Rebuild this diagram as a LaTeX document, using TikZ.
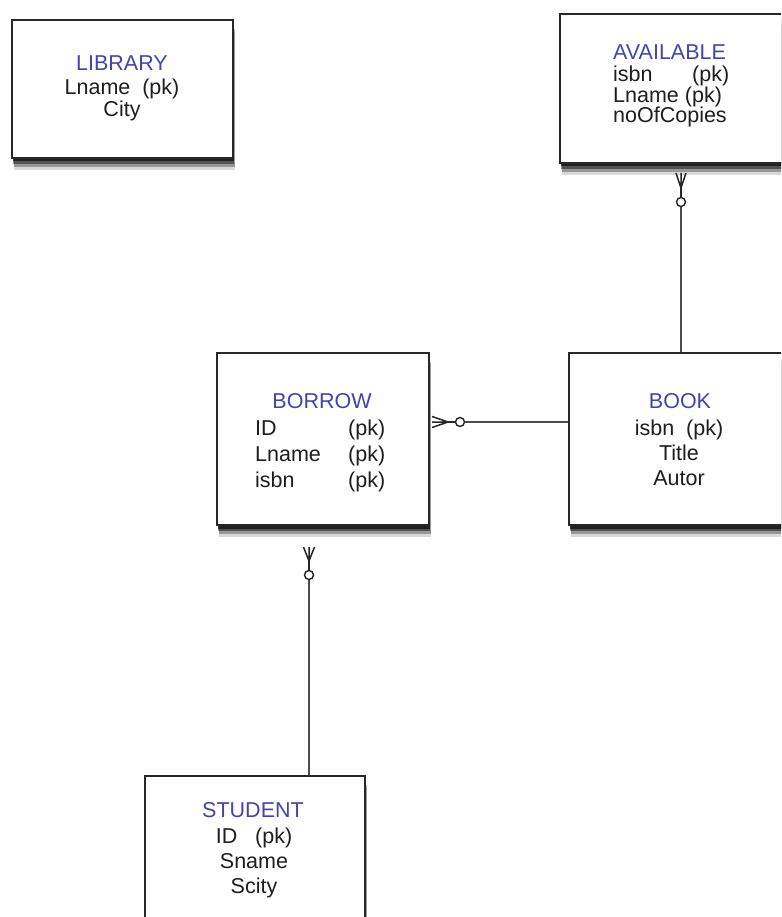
\documentclass[tikz,border=0pt]{standalone}
\usepackage{fontspec}
\setmainfont{Liberation Sans}
\usetikzlibrary{shadows}
\definecolor{ttl}{RGB}{68,68,175}
\definecolor{txt}{RGB}{30,30,30}
\definecolor{brd}{RGB}{40,40,40}
\definecolor{lnc}{RGB}{75,75,75}
\tikzset{
  entity/.style={draw=brd, line width=2.4pt, fill=white, inner sep=0pt, rectangle,
    general shadow={fill=black, opacity=0.15, shadow xshift=2pt, shadow yshift=-12pt},
    general shadow={fill=black, opacity=0.30, shadow xshift=1.5pt, shadow yshift=-9pt},
    general shadow={fill=black, opacity=0.45, shadow xshift=1pt, shadow yshift=-6pt},
    general shadow={fill=black, opacity=0.60, shadow xshift=0.5pt, shadow yshift=-3.5pt}},
  ttltext/.style={text=ttl, font=\fontsize{21.5}{24}\selectfont, inner sep=0pt, anchor=base},
  rowtext/.style={text=txt, font=\fontsize{21.5}{24}\selectfont, inner sep=0pt, anchor=base},
  rowleft/.style={rowtext, anchor=base west},
  conn/.style={draw=lnc, line width=1.6pt},
  crow/.style={draw=black!85, line width=1.5pt},
  ring/.style={draw=black!85, line width=1.4pt, fill=white, circle, inner sep=0pt, minimum size=9pt}
}
\begin{document}
\begin{tikzpicture}[x=1pt,y=-1pt]
\useasboundingbox (0,0) rectangle (781,917);
\clip (0,0) rectangle (781,917);
\fill[white] (0,0) rectangle (781,917);

% entity boxes
\node[entity, minimum width=221pt, minimum height=138pt] (lib) at (122.5,89) {};
\node[entity, minimum width=223pt, minimum height=149pt] (avail) at (671.5,88.5) {};
\node[entity, minimum width=212pt, minimum height=172pt] (borrow) at (323,439) {};
\node[entity, minimum width=214pt, minimum height=172pt] (book) at (676,439) {};
\node[entity, minimum width=220pt, minimum height=159pt] (student) at (255,855.5) {};

% LIBRARY
\node[ttltext] (libT) at (122,71) {LIBRARY};
\node[rowtext] (libA) at (122,95) {Lname\ \ (pk)};
\node[rowtext] (libB) at (122,117) {City};

% AVAILABLE
\node[ttltext, anchor=base west] (avT) at (613,60) {AVAILABLE};
\node[rowleft] (avA) at (613,82) {isbn};
\node[rowleft] (avAk) at (692,82) {(pk)};
\node[rowleft] (avB) at (613,103) {Lname (pk)};
\node[rowleft] (avC) at (613,123) {noOfCopies};

% BORROW
\node[ttltext] (boT) at (322,408) {BORROW};
\node[rowleft] (boA) at (255,435) {ID};
\node[rowleft] (boAk) at (348,435) {(pk)};
\node[rowleft] (boB) at (255,461) {Lname};
\node[rowleft] (boBk) at (348,461) {(pk)};
\node[rowleft] (boC) at (255,487) {isbn};
\node[rowleft] (boCk) at (348,487) {(pk)};

% BOOK
\node[ttltext] (bkT) at (680,408) {BOOK};
\node[rowtext] (bkA) at (679,435) {isbn\ \ (pk)};
\node[rowtext] (bkB) at (679,460) {Title};
\node[rowtext] (bkC) at (679,485) {Autor};

% STUDENT
\node[ttltext] (stT) at (253,817) {STUDENT};
\node[rowtext] (stA) at (254,843) {ID\ \ \ (pk)};
\node[rowtext] (stB) at (254,868) {Sname};
\node[rowtext] (stC) at (254,893) {Scity};

% connector columns
\coordinate (xa) at (681,0);
\coordinate (xs) at (309,0);
\coordinate (yb) at (0,422);

% AVAILABLE -- BOOK
\node[ring] (r1) at (681,202) {};
\coordinate (k1) at (681,188);
\draw[conn] (r1) -- (book.north -| xa);
\draw[crow] (r1) -- (k1);
\draw[crow] (676,173) -- (k1) (681,173) -- (k1) (686,173) -- (k1);

% BORROW -- BOOK
\node[ring] (r2) at (460,422) {};
\coordinate (k2) at (448,422);
\draw[conn] (r2) -- (book.west |- yb);
\draw[crow] (r2) -- (k2);
\draw[crow] (432,416.5) -- (k2) (432,422) -- (k2) (432,427.5) -- (k2);

% BORROW -- STUDENT
\node[ring] (r3) at (309,575) {};
\coordinate (k3) at (309,561);
\draw[conn] (r3) -- (student.north -| xs);
\draw[crow] (r3) -- (k3);
\draw[crow] (303.5,547) -- (k3) (309,547) -- (k3) (314.5,547) -- (k3);
\end{tikzpicture}
\end{document}
